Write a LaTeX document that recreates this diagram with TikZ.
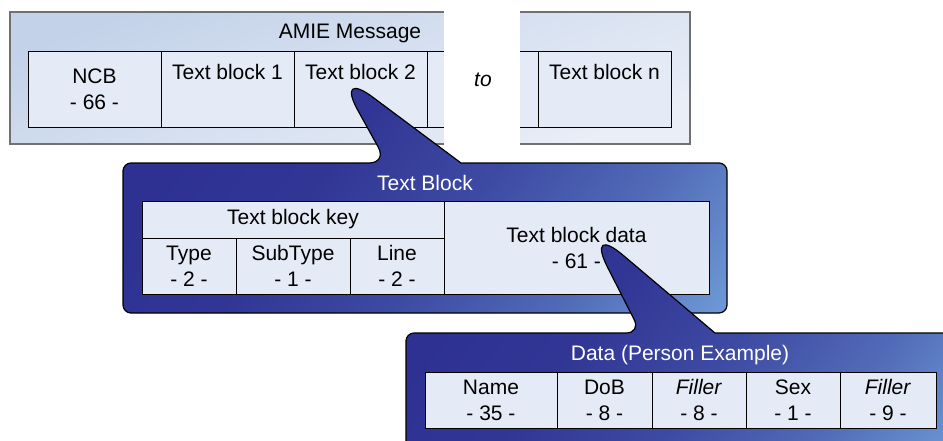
\documentclass[tikz,border=0pt]{standalone}
\usepackage{fontspec}
\setmainfont{Liberation Sans}
\usetikzlibrary{positioning}
\definecolor{msgtop}{HTML}{C3D2E9}
\definecolor{msgbot}{HTML}{E9EEF7}
\definecolor{msgline}{HTML}{707070}
\definecolor{cellfill}{HTML}{E5EBF6}
\definecolor{cbdark}{HTML}{2E3192}
\definecolor{cblight}{HTML}{6E9AD6}
\colorlet{cbstepa}{cblight!55!cbdark}
\colorlet{cbstepb}{cblight!24!cbdark}
\colorlet{cbstepc}{cblight!5!cbdark}
\pgfdeclareverticalshading{cbshade}{100bp}{color(0bp)=(cblight); color(15bp)=(cblight);
    color(30bp)=(cbstepa); color(45bp)=(cbstepb); color(60bp)=(cbstepc); color(74bp)=(cbdark); color(100bp)=(cbdark)}

\begin{document}
\begin{tikzpicture}[
        x=1pt, y=-1pt, node distance=0pt,
        every node/.style={font=\fontsize{21pt}{26pt}\selectfont, outer sep=0pt},
        cell/.style={draw=black, line width=0.9pt, fill=cellfill, align=center, minimum height=56pt, inner sep=0pt},
        topcell/.style={cell, minimum width=133pt, minimum height=76pt, text height=15pt, text depth=35pt},
        title/.style={text=white},
        callout/.style={draw=black, line width=1.2pt, shade, shading=cbshade, shading angle=53},
        ]
        \useasboundingbox (0,0) rectangle (943,440);

        \node[draw=msgline, line width=1.2pt, top color=msgtop, bottom color=msgbot, shading angle=20,
              minimum width=680pt, minimum height=132pt] (amie) at (350,78) {};
        \node (amietitle) at (350,33) {AMIE Message};
        \node[cell, minimum width=133pt, minimum height=76pt] (ncb) at (94.5,89) {NCB\\- 66 -};
        \node[topcell, right=of ncb] (tb1) {Text block 1};
        \node[topcell, right=of tb1] (tb2) {Text block 2};
        \node[cell, minimum width=60pt, minimum height=76pt, right=of tb2] (tb3) {};
        \node[topcell] (tbn) at (604.5,89) {Text block n};
        \node[cell, minimum width=60pt, minimum height=76pt, left=of tbn] (tbm) {};
        \fill[white] (444,4) rectangle (520,162);
        \node[font=\fontsize{21pt}{26pt}\selectfont\itshape] (to) at (483,80) {to};

        \path[callout] (123,238) [rounded corners=8pt] -- (123,163) [rounded corners=18pt] -- (387,163)
            [rounded corners=47pt] -- (335,69) [sharp corners] -- (461,163)
            [rounded corners=8pt] -- (727,163) -- (727,313) -- (123,313) -- cycle;
        \node[title] (tbtitle) at (425,183) {Text Block};
        \node[cell, minimum width=302pt, minimum height=37pt] (key) at (293,219.5) {Text block key};
        \node[cell, minimum width=94pt, anchor=north west] (type) at (key.south west) {Type\\- 2 -};
        \node[cell, minimum width=114pt, right=of type] (subtype) {SubType\\- 1 -};
        \node[cell, minimum width=94pt, right=of subtype] (line) {Line\\- 2 -};
        \node[cell, minimum width=265pt, minimum height=93pt, anchor=north west] (tbdata) at (key.north east) {Text block data\\- 61 -};

        \path[callout] (406,400) [rounded corners=8pt] -- (406,333) [rounded corners=15pt] -- (641,333)
            [rounded corners=50pt] -- (585,223) [sharp corners] -- (715,333)
            -- (960,333) -- (960,460) -- (406,460) -- cycle;
        \node[title] (datatitle) at (680,355) {Data (Person Example)};
        \node[cell, minimum width=132pt] (name) at (491,400) {Name\\- 35 -};
        \node[cell, minimum width=95pt, right=of name] (dob) {DoB\\- 8 -};
        \node[cell, minimum width=94pt, right=of dob] (filler1) {\textit{Filler}\\- 8 -};
        \node[cell, minimum width=94pt, right=of filler1] (sex) {Sex\\- 1 -};
        \node[cell, minimum width=96pt, right=of sex] (filler2) {\textit{Filler}\\- 9 -};
\end{tikzpicture}
\end{document}
